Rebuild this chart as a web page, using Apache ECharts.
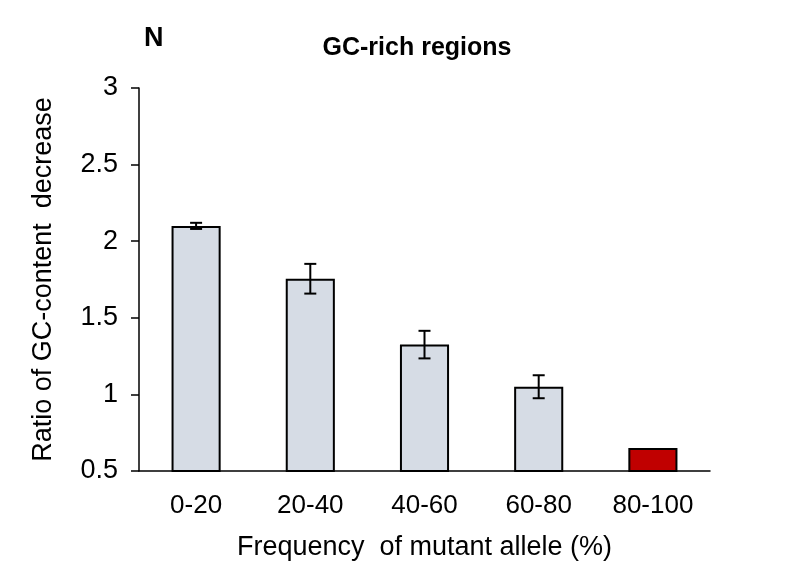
<!DOCTYPE html>
<html>
<head>
<meta charset="utf-8">
<script src="https://cdn.jsdelivr.net/npm/echarts@6/dist/echarts.min.js"></script>
<style>html,body{margin:0;padding:0;background:#fff}#c{width:800px;height:566px}</style>
</head>
<body>
<div id="c"></div>
<script>
var categories = ['0-20', '20-40', '40-60', '60-80', '80-100'];
var values = [2.10, 1.755, 1.325, 1.05, 0.65];
var errors = [0.02, 0.097, 0.09, 0.075, 0];
var barColors = ['#d6dce5', '#d6dce5', '#d6dce5', '#d6dce5', '#c00000'];

var chart = echarts.init(document.getElementById('c'));
var font = 'Liberation Sans, Arial, sans-serif';
chart.setOption({
  animation: false,
  title: [
    {text: 'GC-rich regions', left: 412, top: 31, textAlign: 'center',
     textStyle: {fontFamily: font, fontSize: 25, fontWeight: 'bold', color: '#000'}},
    {text: 'N', left: 139, top: 20,
     textStyle: {fontFamily: font, fontSize: 27, fontWeight: 'bold', color: '#000'}}
  ],
  grid: {left: 139, right: 90, top: 88, bottom: 93},
  xAxis: {
    type: 'category', data: categories,
    axisLine: {lineStyle: {color: '#000', width: 1.5}},
    axisTick: {show: false},
    axisLabel: {color: '#000', fontFamily: font, fontSize: 26, margin: 22},
    name: 'Frequency  of mutant allele (%)', nameLocation: 'middle', nameGap: 63,
    nameTextStyle: {color: '#000', fontFamily: font, fontSize: 27}
  },
  yAxis: {
    type: 'value', min: 0.5, max: 3, interval: 0.5,
    axisLine: {show: true, lineStyle: {color: '#000', width: 1.5}},
    axisTick: {show: true, length: 8, lineStyle: {color: '#000', width: 1.5}},
    splitLine: {show: false},
    axisLabel: {color: '#000', fontFamily: font, fontSize: 27, margin: 21},
    name: 'Ratio of GC-content  decrease', nameLocation: 'middle', nameGap: 82,
    nameTextStyle: {color: '#000', fontFamily: font, fontSize: 27}
  },
  series: [
    {
      type: 'bar', barWidth: '43%',
      data: values.map(function (v, i) {
        return {value: v, itemStyle: {color: barColors[i]}};
      }),
      itemStyle: {borderColor: '#000', borderWidth: 2}
    },
    {
      type: 'custom',
      data: values.map(function (v, i) { return [i, v, errors[i]]; }),
      renderItem: function (params, api) {
        var e = api.value(2);
        if (!e) return null;
        var x = api.value(0), v = api.value(1);
        var hi = api.coord([x, v + e]);
        var lo = api.coord([x, v - e]);
        var w = 6;
        var st = {stroke: '#000', lineWidth: 2};
        return {type: 'group', children: [
          {type: 'line', shape: {x1: hi[0], y1: hi[1], x2: lo[0], y2: lo[1]}, style: st},
          {type: 'line', shape: {x1: hi[0] - w, y1: hi[1], x2: hi[0] + w, y2: hi[1]}, style: st},
          {type: 'line', shape: {x1: lo[0] - w, y1: lo[1], x2: lo[0] + w, y2: lo[1]}, style: st}
        ]};
      },
      z: 10
    }
  ]
});
</script>
</body>
</html>
